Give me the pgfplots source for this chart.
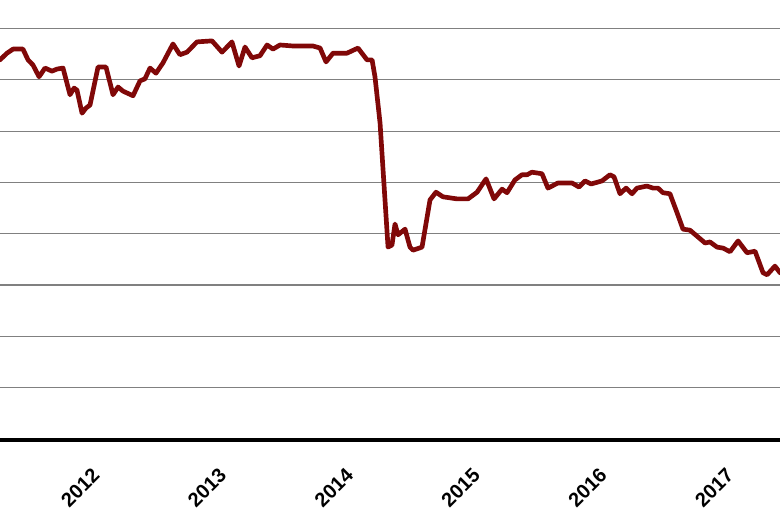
\documentclass[border=0pt]{standalone}
\usepackage{pgfplots}
\pgfplotsset{compat=1.18}
\usepackage{fontspec}
\setmainfont{Liberation Sans}
\definecolor{linered}{RGB}{128,8,8}
\definecolor{gridgray}{RGB}{128,128,128}
\begin{document}
\begin{tikzpicture}
\useasboundingbox (0,-55.9pt) rectangle (585pt,331.1pt);
\clip (0,-55.9pt) rectangle (585pt,331.1pt);
\begin{axis}[
  scale only axis,
  width=585pt, height=331.1pt,
  xmin=2011.235, xmax=2017.386,
  ymin=-0.0487, ymax=8.557,
  xtick={2012,2013,2014,2015,2016,2017},
  xticklabels={\textbf{2012},\textbf{2013},\textbf{2014},\textbf{2015},\textbf{2016},\textbf{2017}},
  ytick={1,2,3,4,5,6,7,8},
  yticklabels={},
  ymajorgrids,
  grid style={gridgray, line width=0.9pt},
  major tick length=0pt,
  axis line style={draw=none},
  xticklabel style={font=\fontsize{15}{17}\selectfont, rotate=45, anchor=north east, inner sep=0pt, yshift=-10pt, xshift=-16.5pt},
]
\addplot[linered, line width=3.5pt, line join=round, line cap=round] coordinates {
(2011.235,7.39) (2011.290,7.52) (2011.338,7.60) (2011.416,7.60) (2011.456,7.39)
(2011.495,7.29) (2011.543,7.06) (2011.590,7.23) (2011.645,7.17) (2011.684,7.21)
(2011.732,7.23) (2011.787,6.71) (2011.819,6.84) (2011.842,6.80) (2011.882,6.35)
(2011.913,6.45) (2011.945,6.51) (2012.008,7.25) (2012.071,7.25) (2012.126,6.71)
(2012.166,6.86) (2012.205,6.78) (2012.284,6.69) (2012.339,6.98) (2012.378,7.02)
(2012.418,7.23) (2012.465,7.13) (2012.520,7.33) (2012.599,7.70) (2012.654,7.49)
(2012.710,7.54) (2012.788,7.74) (2012.907,7.76) (2012.986,7.54) (2013.064,7.74)
(2013.120,7.27) (2013.167,7.64) (2013.222,7.43) (2013.285,7.47) (2013.341,7.68)
(2013.388,7.60) (2013.443,7.68) (2013.546,7.66) (2013.703,7.66) (2013.759,7.62)
(2013.806,7.35) (2013.861,7.52) (2013.971,7.52) (2014.058,7.62) (2014.129,7.39)
(2014.169,7.39) (2014.192,7.06) (2014.232,6.16) (2014.247,5.58) (2014.295,3.74)
(2014.326,3.78) (2014.350,4.19) (2014.374,3.98) (2014.429,4.09) (2014.468,3.74)
(2014.492,3.68) (2014.563,3.74) (2014.626,4.66) (2014.673,4.81) (2014.728,4.72)
(2014.839,4.68) (2014.926,4.68) (2014.997,4.81) (2015.068,5.07) (2015.131,4.68)
(2015.194,4.87) (2015.233,4.80) (2015.296,5.05) (2015.351,5.15) (2015.391,5.15)
(2015.430,5.20) (2015.509,5.17) (2015.556,4.89) (2015.635,4.99) (2015.746,4.99)
(2015.801,4.91) (2015.848,5.03) (2015.896,4.97) (2015.982,5.03) (2016.045,5.15)
(2016.077,5.11) (2016.124,4.78) (2016.172,4.89) (2016.219,4.78) (2016.258,4.89)
(2016.337,4.93) (2016.384,4.89) (2016.424,4.89) (2016.463,4.80) (2016.518,4.78)
(2016.574,4.41) (2016.621,4.09) (2016.676,4.07) (2016.795,3.82) (2016.834,3.84)
(2016.889,3.74) (2016.937,3.72) (2016.992,3.65) (2017.055,3.86) (2017.126,3.63)
(2017.189,3.66) (2017.252,3.24) (2017.284,3.20) (2017.346,3.37) (2017.386,3.24)
};
\draw[black, line width=4.9pt] (rel axis cs:0,0) -- (rel axis cs:1,0);
\end{axis}
\end{tikzpicture}
\end{document}
